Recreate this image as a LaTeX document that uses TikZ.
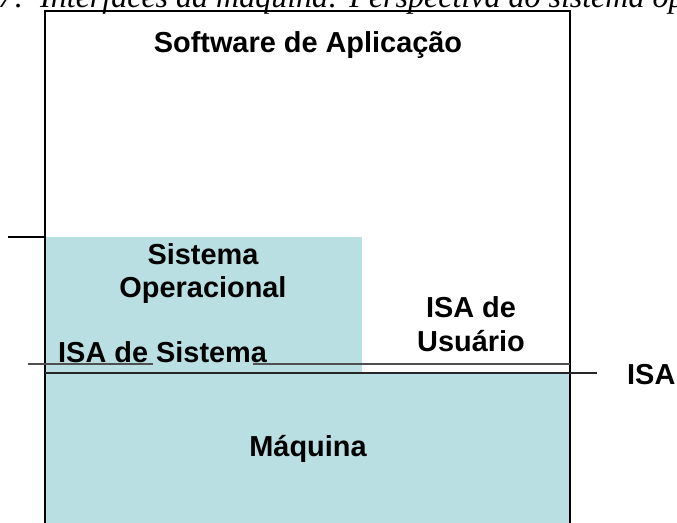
\documentclass[tikz,border=0pt]{standalone}
\usepackage{fontspec}
\setmainfont{Liberation Sans}
\newfontfamily\capfont{Liberation Serif}
\definecolor{boxfill}{RGB}{185,223,226}
\definecolor{thinline}{RGB}{80,80,80}
\tikzset{
  lbl/.style={font=\fontsize{28.9}{34}\selectfont\bfseries, inner sep=0pt, anchor=base, align=center},
  capt/.style={inner sep=0pt, anchor=base west, font=\capfont\itshape\fontsize{32}{36}\selectfont},
  edge/.style={line width=1.4pt, draw=black},
  thin/.style={line width=1.2pt, draw=thinline}
}
\begin{document}
\begin{tikzpicture}[x=1pt,y=-1pt]
\useasboundingbox (0,0) rectangle (677,522);
\clip (0,0) rectangle (677,522);
% fills
\fill[boxfill] (45,237) rectangle (362,373);
\fill[boxfill] (45,373) rectangle (570,530);
% caption (cut off at the top, as in the reference)
\node[capt] (capnum) at (-2,7) {7:};
\node[capt] (cap) at (40,7) {Interfaces da máquina: Perspectiva do sistema op};
% outer frame
\coordinate (fl) at (45,530);
\coordinate (tl) at (45,11);
\coordinate (tr) at (570,11);
\coordinate (fr) at (570,530);
\draw[edge] (fl) -- (tl) -- (tr) -- (fr);
% lines
\coordinate (a1) at (8,237);  \coordinate (a2) at (45,237);
\draw[edge] (a1) -- (a2);
\coordinate (b1) at (28,364); \coordinate (b2) at (153,364);
\coordinate (b3) at (253,364); \coordinate (b4) at (570,364);
\draw[thin] (b1) -- (b2);
\draw[thin] (b3) -- (b4);
\coordinate (c1) at (45,373); \coordinate (c2) at (597,373);
\draw[edge, draw=black!85] (c1) -- (c2);
% labels
\node[lbl] (sw) at (308,52) {Software de Aplicação};
\node[lbl, font=\fontsize{28.9}{33}\selectfont\bfseries] (so) at (203,297) {Sistema\\Operacional};
\node[lbl, anchor=base west] (isas) at (58,362) {ISA de Sistema};
\node[lbl] (isau) at (471,351) {ISA de\\Usuário};
\node[lbl, anchor=base west] (isa) at (627,384) {ISA};
\node[lbl] (maq) at (308,456) {Máquina};
\end{tikzpicture}
\end{document}
